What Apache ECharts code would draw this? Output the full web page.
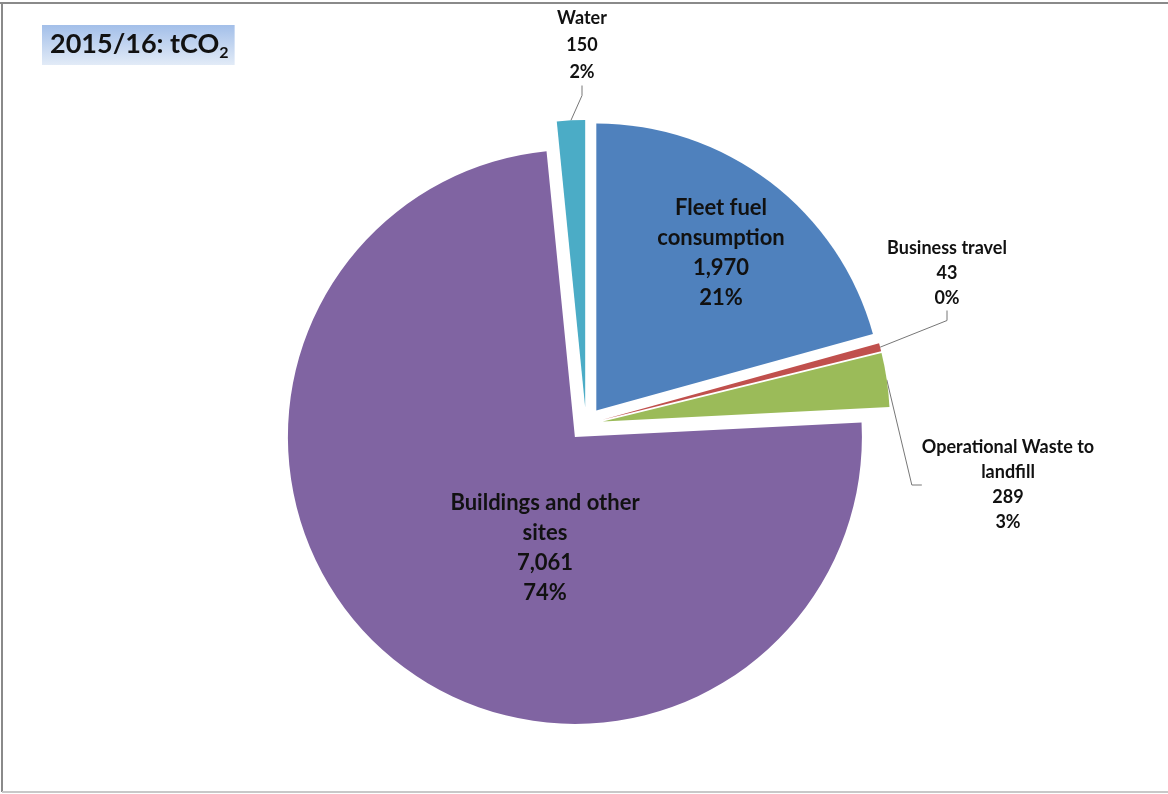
<!DOCTYPE html>
<html>
<head>
<meta charset="utf-8">
<script src="https://cdn.jsdelivr.net/npm/echarts@6/dist/echarts.min.js"></script>
<style>
html,body{margin:0;padding:0;background:#fff;}
#chart{width:1168px;height:794px;}
</style>
</head>
<body>
<div id="chart"></div>
<script>
const categories = ['Fleet fuel consumption', 'Business travel', 'Operational Waste to landfill', 'Buildings and other sites', 'Water'];
const labelNames = ['Fleet fuel\nconsumption', 'Business travel', 'Operational Waste to\nlandfill', 'Buildings and other\nsites', 'Water'];
const values = [1970, 43, 289, 7061, 150];
const colors = ['#4F81BD', '#C0504D', '#9BBB59', '#8064A2', '#4BACC6'];
const titleText = '2015/16: tCO';
const titleSub = '2';

const FONT = 'Lato, "Open Sans", sans-serif';

// label placement (layout only)
const labelPos = [
  { x: 721, y: 253 },
  { x: 947, y: 273 },
  { x: 1008, y: 485 },
  { x: 545, y: 548 },
  { x: 582, y: 45 }
];

const insideStyle = { fontSize: 22, lineHeight: 30, fontWeight: 'bold', color: '#111', fontFamily: FONT };
const outsideStyle = { fontSize: 18, lineHeight: 25, fontWeight: 'bold', color: '#111', fontFamily: FONT };
const labelCfg = [
  Object.assign({ show: true, position: 'inside' }, insideStyle),
  Object.assign({ show: true, position: 'outside' }, outsideStyle),
  Object.assign({ show: true, position: 'outside' }, outsideStyle),
  Object.assign({ show: true, position: 'inside' }, insideStyle),
  Object.assign({ show: true, position: 'outside' }, outsideStyle, { lineHeight: 27 })
];

const CENTER = [586, 424];
const R = 287;
const EXPLODE = 17;

const pieData = categories.map((c, i) => ({
  name: c, value: values[i], selected: true, itemStyle: { color: colors[i] }
}));

const labelData = categories.map((c, i) => ({
  name: c,
  value: values[i],
  label: labelCfg[i],
  labelLine: { show: labelCfg[i].position === 'outside', lineStyle: { color: '#777', width: 1 } }
}));

const chart = echarts.init(document.getElementById('chart'), null, { renderer: 'canvas' });
chart.setOption({
  backgroundColor: '#fff',
  animation: false,
  title: {
    text: '{t|' + titleText + '}{s|' + titleSub + '}',
    left: 42, top: 22,
    padding: [6, 6, 4, 8],
    backgroundColor: {
      type: 'linear', x: 0, y: 0, x2: 0, y2: 1,
      colorStops: [{ offset: 0, color: '#a3bfe9' }, { offset: 1, color: '#e2ebf7' }]
    },
    textStyle: {
      rich: {
        t: { fontSize: 27, fontWeight: 'bold', color: '#111', fontFamily: FONT, height: 33 },
        s: { fontSize: 16, fontWeight: 'bold', color: '#111', fontFamily: FONT, verticalAlign: 'bottom', padding: [14, 0, 0, 0] }
      }
    }
  },
  graphic: [
    { type: 'line', shape: { x1: 0, y1: 3, x2: 1168, y2: 3 }, style: { stroke: '#8a8a8a', lineWidth: 2 } },
    { type: 'line', shape: { x1: 2, y1: 3, x2: 2, y2: 792 }, style: { stroke: '#8a8a8a', lineWidth: 2 } },
    { type: 'line', shape: { x1: 2, y1: 792, x2: 1168, y2: 792 }, style: { stroke: '#c8c8c8', lineWidth: 2 } }
  ],
  series: [{
    type: 'pie',
    center: CENTER,
    radius: [0, R],
    startAngle: 90,
    clockwise: true,
    selectedMode: 'multiple',
    selectedOffset: EXPLODE,
    silent: true,
    itemStyle: { borderWidth: 0 },
    emphasis: { disabled: true },
    label: { show: false },
    labelLine: { show: false },
    data: pieData
  }, {
    type: 'pie',
    center: CENTER,
    radius: [0, R + EXPLODE],
    startAngle: 90,
    clockwise: true,
    silent: true,
    avoidLabelOverlap: false,
    itemStyle: { color: 'rgba(0,0,0,0)', borderWidth: 0 },
    emphasis: { disabled: true },
    labelLine: { length: 30, length2: 10 },
    label: {
      fontWeight: 'bold',
      fontFamily: FONT,
      formatter: (p) => labelNames[p.dataIndex] + '\n' + p.value.toLocaleString('en-US') + '\n' + Math.round(p.percent) + '%',
      align: 'center'
    },
    labelLayout: (params) => {
      const p = labelPos[params.dataIndex];
      return { x: p.x, y: p.y, align: 'center', verticalAlign: 'middle' };
    },
    data: labelData
  }]
});
</script>
</body>
</html>
